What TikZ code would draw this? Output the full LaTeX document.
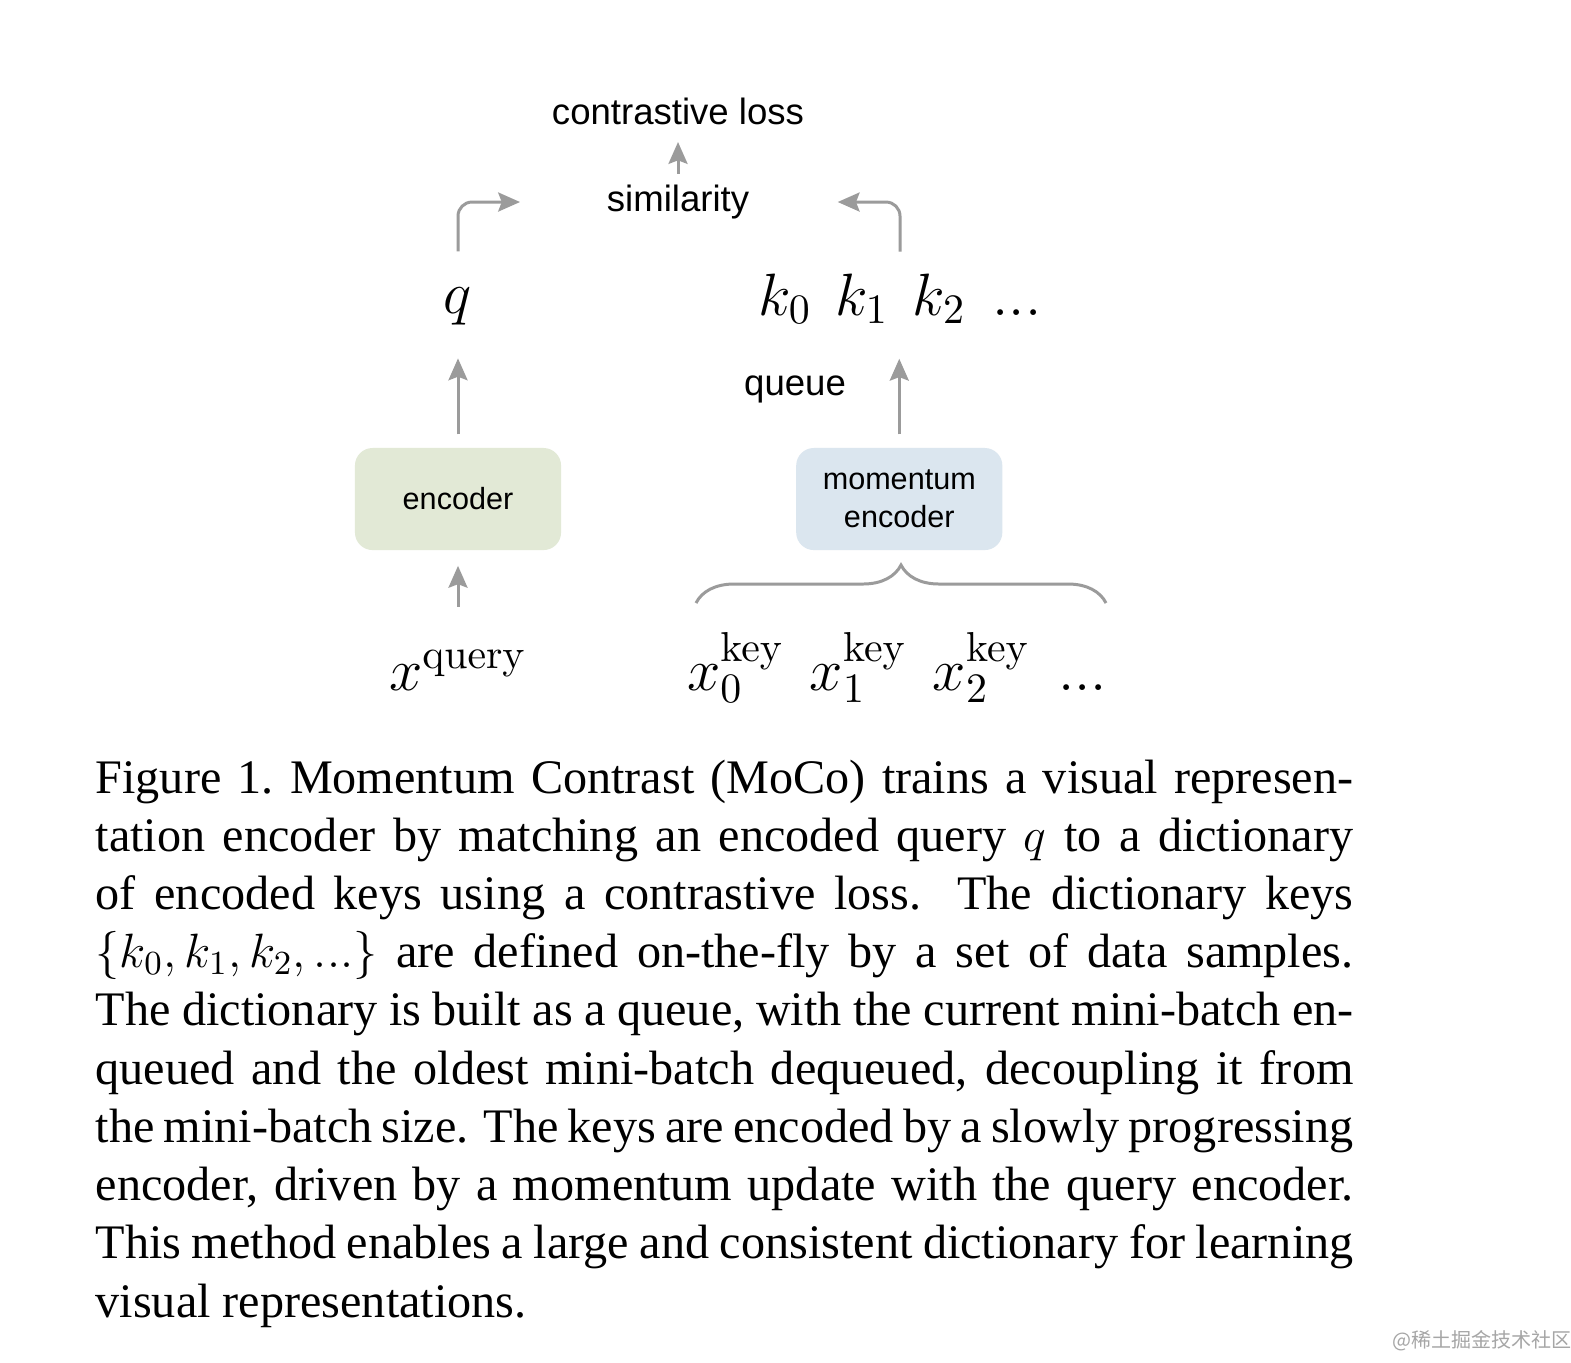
\RequirePackage{fix-cm}
\documentclass[tikz,border=0pt]{standalone}
\usepackage[no-math]{fontspec}
\setmainfont{Liberation Serif}
\setsansfont{Liberation Sans}
\newfontfamily\cjkfont{Noto Sans CJK SC}
\usetikzlibrary{arrows.meta,decorations.pathreplacing}

\definecolor{encgreen}{RGB}{226,233,214}
\definecolor{mencblue}{RGB}{219,230,239}
\definecolor{arrowgray}{RGB}{155,155,155}

\newcommand{\sflabel}{\sffamily\fontsize{10.4}{12.5}\selectfont}
\newcommand{\sfbox}{\sffamily\fontsize{8.7}{10.8}\selectfont}
\newcommand{\mathbig}{\fontsize{17}{20}\selectfont}
\newcommand{\capsize}{\fontsize{13.7}{16.56}\selectfont}

\begin{document}
\begin{tikzpicture}[
  x=0.01cm, y=-0.01cm,
  blk/.style={rounded corners=5pt, minimum width=2.06cm, minimum height=1.02cm, align=center, font=\sfbox},
  lbl/.style={font=\sflabel, inner sep=0pt},
  mth/.style={font=\mathbig, inner sep=0pt, anchor=base},
  arw/.style={-{Stealth[length=6.2pt, width=5.4pt, inset=1pt]}, draw=arrowgray, line width=0.85pt},
  brc/.style={draw=arrowgray, line width=0.85pt, decorate, decoration={brace, amplitude=0.38cm}}
  ]

\useasboundingbox (0,0) rectangle (1571,1362);
\fill [white] (0,0) rectangle (1571,1362);

\node [blk, fill=encgreen] (enc) at (458,499) {encoder};
\node [blk, fill=mencblue, right of=enc, node distance=4.41cm] (menc) {momentum\\encoder};

\node [mth] (q) at (458,313) {$q$};
\node [mth] (keys) at (900,315) {$k_0$\hspace{6.8pt}$k_1$\hspace{6.8pt}$k_2$\hspace{7.7pt}$...$};
\node [mth] (xq) at (458,690) {$x^{\mathrm{query}}$};
\node [mth] (xkeys) at (897,690) {$x_0^{\mathrm{key}}$\hspace{7.3pt}$x_1^{\mathrm{key}}$\hspace{7.3pt}$x_2^{\mathrm{key}}$\hspace{8pt}$...$};

\node [lbl] (loss) at (678,111) {contrastive loss};
\node [lbl] (sim) at (678,202) {similarity};
\node [lbl] (queue) at (795,389) {queue};

\draw [arw, shorten <=3pt, shorten >=4.8pt] (sim) -- (loss);
\draw [arw, shorten <=3.7pt, shorten >=9.4pt] (enc) -- (q);
\draw [arw, shorten <=3.7pt, shorten >=9.7pt] (menc) -- (menc |- keys.south);
\draw [arw, shorten <=12.2pt, shorten >=4.3pt] (xq) -- (enc);
\draw [arw, rounded corners=4pt, shorten <=10pt, shorten >=24.5pt] (q) |- (sim);
\draw [arw, rounded corners=4pt, shorten <=6pt, shorten >=25pt] (keys) |- (sim);

% brace over the key samples
\coordinate (brl) at (696,603);
\coordinate (brr) at (1106,603);
\draw [brc] (brl) -- (brr);

\node [anchor=base west, inner sep=0pt, text width=12.57cm, align=justify, font=\capsize] (cap) at (95,793) {\tolerance=10000
Figure 1.\ Momentum Contrast (MoCo) trains a visual represen-\linebreak
tation encoder by matching an encoded query $q$ to a dictionary\linebreak
of encoded keys using a contrastive loss. The dictionary keys\linebreak
$\{k_0, k_1, k_2, ...\}$ are defined on-the-fly by a set of data samples.\linebreak
The dictionary is built as a queue, with the current mini-batch en-\linebreak
queued and the oldest mini-batch dequeued, decoupling it from\linebreak
the mini-batch size. The keys are encoded by a slowly progressing\linebreak
encoder, driven by a momentum update with the query encoder.\linebreak
This method enables a large and consistent dictionary for learning\linebreak
visual representations.};

\node [font=\cjkfont\fontsize{5.7}{7}\selectfont, text=gray!70, inner sep=0pt] (wm) at (1482,1341) {@稀土掘金技术社区};

\end{tikzpicture}
\end{document}
